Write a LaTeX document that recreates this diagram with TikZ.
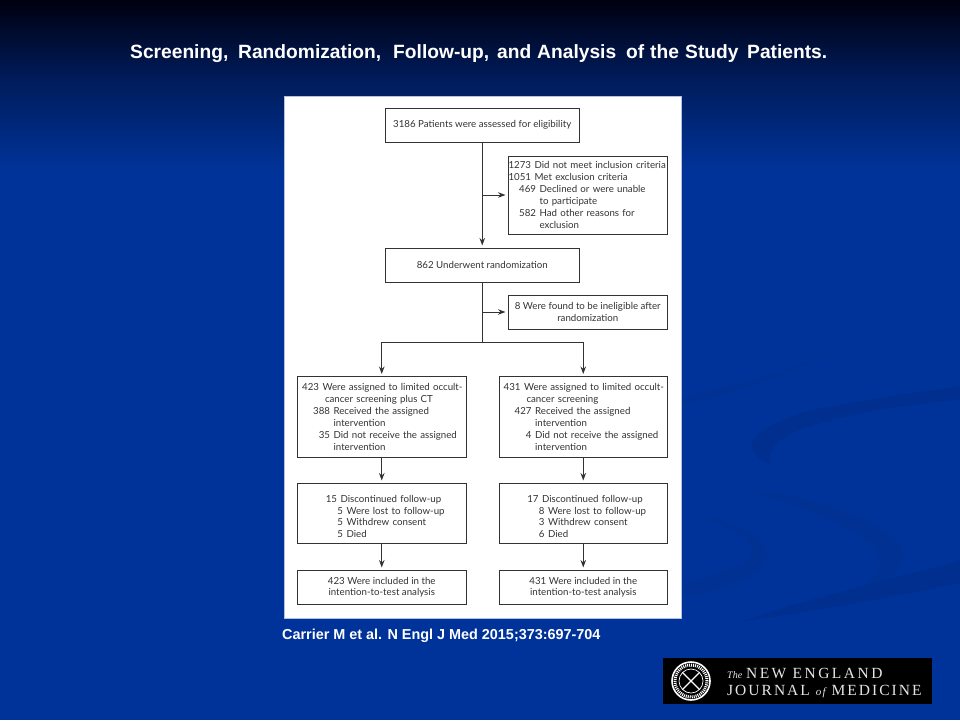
\documentclass[tikz,border=0pt]{standalone}
\usepackage{fontspec}
\setmainfont{Liberation Sans}
\newfontfamily\flowfont{Lato}
\newfontfamily\logofont{Liberation Serif}
\usetikzlibrary{arrows.meta,calc}
\definecolor{bgblue}{HTML}{003399}
\definecolor{bgmid}{HTML}{001C5C}
\definecolor{bgtop}{HTML}{00000F}
\definecolor{swoosh}{HTML}{002F8F}
\definecolor{swooshfaint}{HTML}{013193}
\definecolor{inkgray}{HTML}{333333}
\newcommand{\entry}[3]{\mbox{\makebox[#1pt][r]{#2}\hspace{3.6pt}#3}}
\newcommand{\cont}[2]{\mbox{\hspace{#1pt}#2}}
\newcommand{\wrd}[2]{\makebox[#1pt][l]{#2}}
\tikzset{
  x=1pt,y=-1pt,
  flowbox/.style={draw=inkgray,line width=.8pt,fill=white,inner sep=0pt,outer sep=0pt,text=inkgray,font=\flowfont\fontsize{9.7}{11.9}\selectfont},
  wide/.style={flowbox,minimum width=193.5pt,minimum height=34pt,align=center},
  side/.style={flowbox,minimum width=159.5pt,text width=159.5pt,align=left},
  arm/.style={flowbox,minimum width=168.5pt,text width=168.5pt,align=left},
  flowline/.style={draw=inkgray,line width=.9pt},
  flowarrow/.style={flowline,-{Stealth[length=7.5pt,width=5.5pt]},shorten >=2.5pt},
  slidetext/.style={text=white,font=\bfseries,inner sep=0pt,anchor=west},
  swooshshape/.style={fill=swoosh,draw=none}
}
\begin{document}
\begin{tikzpicture}
\useasboundingbox (0,0) rectangle (960,720);
% background
\fill[bgblue] (0,0) rectangle (960,720);
\shade[top color=bgtop,bottom color=bgmid,draw=none] (0,0) rectangle (960,80);
\shade[top color=bgmid,bottom color=bgblue,draw=none] (0,80) rectangle (960,170);
% swooshes
\fill[swooshshape] (960,386) .. controls (880,398) and (820,405) .. (790,417) .. controls (765,427) and (752,435) .. (752,445) .. controls (752,455) and (760,460) .. (770,464) .. controls (768,450) and (775,440) .. (800,430) .. controls (840,415) and (900,405) .. (960,400) -- cycle;
\fill[swooshfaint] (682,398) .. controls (730,385) and (790,375) .. (845,342) .. controls (810,368) and (740,392) .. (682,405) -- cycle;
\fill[swooshfaint] (750,490) .. controls (810,495) and (905,525) .. (903,556) .. controls (902,575) and (880,582) .. (865,585) .. controls (885,570) and (885,550) .. (860,535) .. controls (830,518) and (790,505) .. (750,490) -- cycle;
\fill[swooshfaint] (685,510) .. controls (730,520) and (768,535) .. (767,555) .. controls (766,575) and (730,590) .. (683,597) -- (683,583) .. controls (720,572) and (755,565) .. (752,548) .. controls (748,535) and (720,522) .. (685,510) -- cycle;
\fill[swooshshape] (960,560) -- (960,583) .. controls (880,600) and (790,615) .. (740,622) .. controls (800,600) and (890,580) .. (960,560) -- cycle;
% panel
\node[fill=white,draw=white!70!bgblue,line width=.8pt,outer sep=0pt,minimum width=397pt,minimum height=522pt,inner sep=0pt,anchor=north west] (panel) at (284,96) {};
% top stem
\node[wide,anchor=north west] (assess) at (385.5,108) {3186 Patients were assessed for eligibility};
\node[wide,anchor=north west] (rand) at (385.5,248) {862 Underwent randomization};
\node[side,anchor=north west,minimum height=78pt] (excl) at (508,156) {%
\entry{23}{1273}{Did not meet inclusion criteria}\\
\entry{23}{1051}{Met exclusion criteria}\\
\entry{28}{469}{Declined or were unable}\\
\cont{31.6}{to participate}\\
\entry{28}{582}{Had other reasons for}\\
\cont{31.6}{exclusion}};
\node[flowbox,anchor=north west,minimum width=159.5pt,minimum height=34pt,align=center] (inelig) at (508,295) {8 Were found to be ineligible after\\randomization};
% arms
\node[arm,anchor=north west,minimum height=80.5pt] (la) at (297.5,376.5) {%
\entry{21.5}{423}{Were assigned to limited occult-}\\
\cont{27.5}{cancer screening plus CT}\\
\entry{32.5}{388}{Received the assigned}\\
\cont{36.1}{intervention}\\
\entry{32.5}{35}{Did not receive the assigned}\\
\cont{36.1}{intervention}};
\node[arm,anchor=north west,minimum height=80.5pt] (ra) at (499,376.5) {%
\entry{21.5}{431}{Were assigned to limited occult-}\\
\cont{27.5}{cancer screening}\\
\entry{32.5}{427}{Received the assigned}\\
\cont{36.1}{intervention}\\
\entry{32.5}{4}{Did not receive the assigned}\\
\cont{36.1}{intervention}};
\node[arm,anchor=north west,minimum height=60.5pt] (lf) at (297.5,483) {%
\rule{0pt}{13.5pt}\entry{39.5}{15}{Discontinued follow-up}\\
\entry{45.5}{5}{Were lost to follow-up}\\
\entry{45.5}{5}{Withdrew consent}\\
\entry{45.5}{5}{Died}};
\node[arm,anchor=north west,minimum height=60.5pt] (rf) at (499,483) {%
\rule{0pt}{13.5pt}\entry{39.5}{17}{Discontinued follow-up}\\
\entry{45.5}{8}{Were lost to follow-up}\\
\entry{45.5}{3}{Withdrew consent}\\
\entry{45.5}{6}{Died}};
\node[flowbox,anchor=north west,minimum width=168.5pt,minimum height=34.5pt,align=center] (li) at (297.5,570) {423 Were included in the\\intention-to-test analysis};
\node[flowbox,anchor=north west,minimum width=168.5pt,minimum height=34.5pt,align=center] (ri) at (499,570) {431 Were included in the\\intention-to-test analysis};
% connectors
\coordinate (exclbranch) at (assess.south |- excl.west);
\coordinate (inbranch) at (rand.south |- inelig.west);
\coordinate (split) at (482.25,342);
\draw[flowarrow] (assess.south) -- (rand.north);
\draw[flowarrow] (exclbranch) -- (excl.west);
\draw[flowline] (rand.south) -- (split);
\draw[flowarrow] (inbranch) -- (inelig.west);
\draw[flowarrow] (split) -| (la.north);
\draw[flowarrow] (split) -| (ra.north);
\draw[flowarrow] (la.south) -- (lf.north);
\draw[flowarrow] (ra.south) -- (rf.north);
\draw[flowarrow] (lf.south) -- (li.north);
\draw[flowarrow] (rf.south) -- (ri.north);
% slide text
\node[slidetext,font=\bfseries\fontsize{19.2}{22}\selectfont] (title) at (130,54) {\wrd{108}{Screening,}\wrd{155}{Randomization,}\wrd{104}{Follow-up,}\wrd{40}{and}\wrd{89}{Analysis}\wrd{24}{of}\wrd{35}{the}\wrd{62}{Study}Patients.};
\node[slidetext,font=\bfseries\fontsize{14.4}{17}\selectfont] (cite) at (282,636) {Carrier M et al. N Engl J Med 2015;373:697-704};
% logo
\node[fill=black,minimum width=269pt,minimum height=46pt,inner sep=0pt,anchor=north west] (logo) at (663,658) {};
\node[circle,draw=white,line width=1.6pt,minimum size=38pt,inner sep=0pt] (seal) at (691,681) {};
\node[circle,draw=white,line width=3pt,dash pattern=on 1pt off 1pt,minimum size=32pt,inner sep=0pt] (sealtext) at (seal) {};
\node[circle,draw=white,line width=.7pt,minimum size=24pt,inner sep=0pt] (sealinner) at (seal) {};
\draw[white,line width=1.2pt] (sealinner.north west) -- (sealinner.south east);
\draw[white,line width=1.2pt] (sealinner.north east) -- (sealinner.south west);
\node[text=white!90!black,font=\logofont\fontsize{15.5}{20}\selectfont,inner sep=0pt,anchor=west] (logo1) at (727,673) {{\fontsize{10}{12}\selectfont\itshape The} \addfontfeature{LetterSpace=16}NEW ENGLAND};
\node[text=white!90!black,font=\logofont\fontsize{15.5}{20}\selectfont,inner sep=0pt,anchor=west] (logo2) at (727,692) {\addfontfeature{LetterSpace=13}JOURNAL {\fontsize{11}{12}\selectfont\itshape of} MEDICINE};
\end{tikzpicture}
\end{document}
